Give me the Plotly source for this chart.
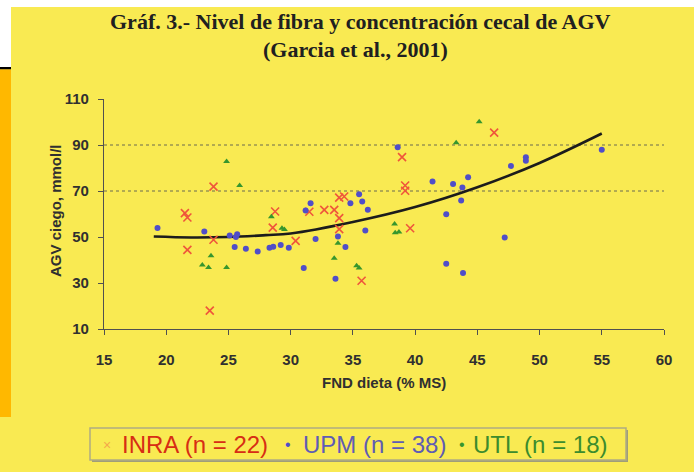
import plotly.graph_objects as go

# ---------------- data ----------------
inra_x = [21.5, 21.7, 21.7, 23.8, 23.8, 23.5, 28.75, 28.56, 30.4, 31.5, 32.7, 33.5,
          33.9, 34.3, 33.9, 33.9, 35.7, 38.95, 39.2, 39.2, 39.6, 46.35]
inra_y = [60.4, 58.5, 44.4, 71.9, 48.8, 18.0, 61.1, 54.1, 48.3, 61.0, 61.8, 61.8,
          67.1, 67.6, 58.2, 53.4, 31.0, 84.7, 72.4, 70.1, 53.8, 95.4]

upm_x = [19.3, 23.06, 25.1, 25.7, 25.6, 25.5, 26.4, 27.35, 28.3, 28.6, 29.2, 29.85,
         31.05, 31.2, 31.6, 32.0, 33.8, 34.4, 33.6, 34.8, 35.5, 35.75, 36.2, 36.0,
         38.6, 41.4, 42.5, 42.5, 43.05, 43.8, 44.26, 43.7, 43.85, 47.2, 47.7, 48.9,
         48.9, 55.0]
upm_y = [53.9, 52.4, 50.6, 51.2, 50.0, 45.7, 44.9, 43.7, 45.3, 45.8, 46.5, 45.3,
         36.5, 61.5, 64.7, 49.1, 50.2, 45.6, 31.8, 64.7, 68.6, 65.4, 61.8, 52.8,
         89.0, 74.1, 59.9, 38.4, 73.0, 71.5, 76.0, 65.9, 34.4, 49.8, 80.9, 84.7,
         83.1, 87.9]

utl_x = [23.6, 22.9, 23.4, 24.85, 24.85, 25.9, 28.45, 29.3, 29.5, 33.8, 33.5, 35.3,
         35.5, 38.35, 38.4, 38.7, 43.3, 45.15]
utl_y = [41.8, 37.8, 36.7, 82.8, 36.7, 72.4, 58.8, 53.8, 53.3, 47.3, 40.8, 37.5,
         36.5, 55.6, 51.9, 52.2, 91.0, 100.1]

trend_x = [19, 22, 25, 28, 30, 35, 40, 45, 50, 55]
trend_y = [50.2, 49.8, 50.0, 50.8, 51.5, 56.5, 63.0, 71.6, 82.2, 95.0]

ref_lines = [70, 90]
x_ticks = [15, 20, 25, 30, 35, 40, 45, 50, 55, 60]
y_ticks = [10, 30, 50, 70, 90, 110]

title_1 = "Gráf. 3.- Nivel de fibra y concentración cecal de AGV"
title_2 = "(Garcia et al., 2001)"
x_title = "FND dieta (% MS)"
y_title = "AGV ciego, mmol/l"
legend_labels = ["INRA (n = 22)", "UPM (n = 38)", "UTL (n = 18)"]

# ---------------- layout geometry ----------------
W, H = 694, 472
L, R, T, B = 104, 30, 99, 143
PW, PH = W - L - R, H - T - B

def xp(px):
    return (px - L) / PW

def yp(py):
    return (H - B - py) / PH

YELLOW = "rgb(249,234,82)"
ORANGE = "rgb(255,184,0)"
INRA_C = "rgb(245,168,75)"
UPM_C = "rgb(80,78,200)"
UTL_C = "rgb(55,150,45)"

fig = go.Figure()

fig.add_trace(go.Scatter(x=trend_x, y=trend_y, mode="lines",
                         line=dict(color="#1c1c1c", width=2.6, shape="spline", smoothing=1.0),
                         showlegend=False, hoverinfo="skip"))
fig.add_trace(go.Scatter(x=inra_x, y=inra_y, mode="markers", name=legend_labels[0],
                         marker=dict(symbol="x-thin-open", size=8,
                                     line=dict(color=INRA_C, width=1.6))))
fig.add_trace(go.Scatter(x=upm_x, y=upm_y, mode="markers", name=legend_labels[1],
                         marker=dict(symbol="circle", size=6, color=UPM_C)))
fig.add_trace(go.Scatter(x=utl_x, y=utl_y, mode="markers", name=legend_labels[2],
                         marker=dict(symbol="triangle-up", size=6, color=UTL_C)))

shapes = []

def box(x0, y0, x1, y1, fill, line=None, lw=0, layer="below"):
    shapes.append(dict(type="rect", xref="paper", yref="paper",
                       x0=xp(x0), x1=xp(x1), y0=yp(y1), y1=yp(y0),
                       fillcolor=fill, line=dict(color=line or fill, width=lw),
                       layer=layer))

# page decorations
box(0, 0, W, 7, "white")
box(0, 0, 11, 67, "white")
box(0, 67, 11, 69.5, "black")
box(0, 69.5, 11, 417, ORANGE)

# dotted reference lines
for v in ref_lines:
    shapes.append(dict(type="line", xref="paper", yref="y", x0=0, x1=1, y0=v, y1=v,
                       line=dict(color="#6a6a50", width=1, dash="dot"), layer="below"))

# legend box with shadow
box(92, 430, 628, 462, "rgb(160,158,120)", layer="above")
box(90, 428, 626, 460, YELLOW, line="rgb(175,172,130)", lw=1.5, layer="above")

annotations = []

def text(px, py, s, size, color, family="Liberation Sans, Arial, sans-serif",
         xanchor="center", bold=False, angle=0):
    if bold:
        s = "<b>" + s + "</b>"
    annotations.append(dict(x=xp(px), y=yp(py), xref="paper", yref="paper", text=s,
                            showarrow=False, xanchor=xanchor, yanchor="middle",
                            textangle=angle,
                            font=dict(family=family, size=size, color=color)))

SERIF = "Liberation Serif, Times New Roman, serif"
text(360, 22, title_1, 22, "#202020", family=SERIF, bold=True)
text(355, 50, title_2, 22, "#202020", family=SERIF, bold=True)
text(384, 382, x_title, 15, "#303030", bold=True)
text(55, 211, y_title, 15, "#303030", bold=True, angle=-90)

# legend texts
text(107, 445, "×", 14, INRA_C)
text(120, 444, legend_labels[0], 24, "rgb(215,45,20)", xanchor="left")
text(288, 444, "•", 16, UPM_C)
text(301, 444, legend_labels[1], 24, "rgb(95,92,180)", xanchor="left")
text(462, 444, "•", 16, UTL_C)
text(471, 444, legend_labels[2], 24, "rgb(60,140,45)", xanchor="left")

axis_common = dict(showline=True, linecolor="#505050", linewidth=1.2,
                   ticks="outside", ticklen=5, tickcolor="#505050", tickwidth=1.2,
                   showgrid=False, zeroline=False, mirror=False,
                   tickfont=dict(family="Liberation Sans, Arial, sans-serif", size=15,
                                 color="#303030", weight="bold"))

fig.update_layout(
    width=W, height=H, autosize=False,
    margin=dict(l=L, r=R, t=T, b=B, pad=0),
    paper_bgcolor=YELLOW, plot_bgcolor=YELLOW,
    showlegend=False,
    xaxis=dict(range=[15, 60], tickvals=x_ticks, ticklabelstandoff=12, **axis_common),
    yaxis=dict(range=[10, 110], tickvals=y_ticks, ticklabelstandoff=6, **axis_common),
    shapes=shapes, annotations=annotations,
)

fig.write_html("out.html",
               config={"displayModeBar": False},
               post_script="document.body.style.margin='0';document.body.style.padding='0';")
